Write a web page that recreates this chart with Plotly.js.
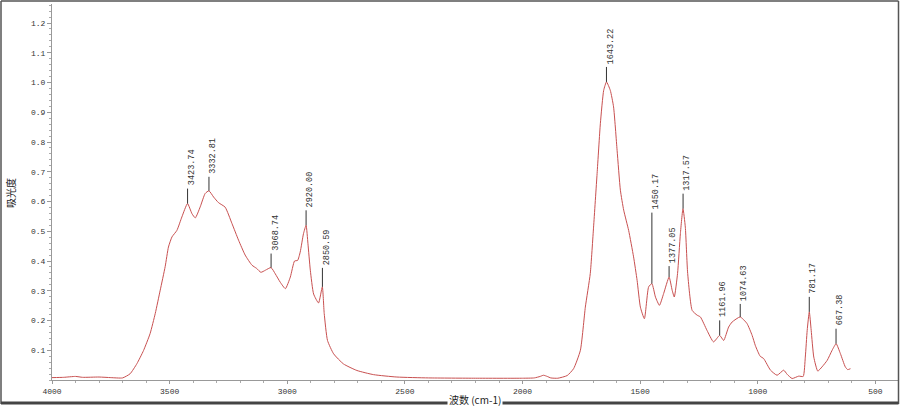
<!DOCTYPE html>
<html>
<head>
<meta charset="utf-8">
<script src="https://cdn.plot.ly/plotly-3.0.1.min.js"></script>
<style>html,body{margin:0;padding:0;background:#fff;}#chart{width:900px;height:406px;}</style>
</head>
<body>
<div id="chart"></div>
<script>
// Wavenumber (cm-1) and absorbance
var wavenumber = [4000,3950,3900,3870,3800,3750,3700,3668,3639,3611,3583,3561,3540,3519,3505,3490,3469,3448,3424,3405,3391,3370,3349,3333,3313,3292,3264,3235,3207,3179,3150,3130,3112,3093,3069,3051,3030,3008,2987,2969,2956,2945,2931,2920,2912,2902,2888,2867,2851,2843,2829,2803,2761,2704,2633,2534,2400,2200,2000,1950,1925,1911,1895,1880,1850,1810,1783,1754,1733,1712,1698,1683,1669,1655,1643,1627,1613,1598,1584,1570,1549,1528,1513,1499,1482,1464,1450,1435,1418,1400,1377,1364,1355,1341,1329,1318,1308,1298,1279,1258,1244,1216,1188,1162,1145,1124,1109,1075,1046,1024,1010,990,975,946,918,890,875,854,826,807,798,790,781,773,762,745,727,705,684,667,649,628,618,606];
var absorbance = [0.008,0.009,0.012,0.009,0.010,0.008,0.007,0.021,0.055,0.099,0.156,0.224,0.302,0.381,0.447,0.481,0.503,0.548,0.593,0.559,0.545,0.582,0.627,0.636,0.615,0.596,0.581,0.526,0.470,0.420,0.386,0.375,0.362,0.369,0.378,0.357,0.329,0.307,0.346,0.400,0.402,0.430,0.492,0.520,0.458,0.369,0.289,0.259,0.313,0.224,0.133,0.088,0.054,0.032,0.018,0.010,0.007,0.006,0.006,0.007,0.012,0.016,0.012,0.007,0.006,0.015,0.038,0.100,0.245,0.358,0.514,0.694,0.863,0.974,1.002,0.974,0.918,0.772,0.638,0.571,0.503,0.414,0.335,0.245,0.206,0.313,0.324,0.279,0.251,0.291,0.346,0.302,0.279,0.358,0.492,0.576,0.514,0.358,0.234,0.218,0.212,0.167,0.128,0.150,0.133,0.178,0.195,0.212,0.190,0.150,0.115,0.080,0.072,0.033,0.016,0.033,0.019,0.005,0.013,0.012,0.077,0.167,0.229,0.167,0.077,0.030,0.044,0.066,0.100,0.122,0.089,0.044,0.035,0.038];

// Peak labels
var peakWn = [3423.74,3332.81,3068.74,2920.00,2850.59,1643.22,1450.17,1377.05,1317.57,1161.96,1074.63,781.17,667.38];
var peakA = [0.593,0.636,0.378,0.520,0.313,1.002,0.324,0.346,0.576,0.150,0.212,0.229,0.122];
var peakText = ["3423.74","3332.81","3068.74","2920.00","2850.59","1643.22","1450.17","1377.05","1317.57","1161.96","1074.63","781.17","667.38"];

// Axis ticks
var yTickVals = [0.1,0.2,0.3,0.4,0.5,0.6,0.7,0.8,0.9,1.0,1.1,1.2];
var xTickVals = [4000,3500,3000,2500,2000,1500,1000,500];

var xTitle = "波数 (cm-1)";
var yTitle = "吸光度";

// leader line lengths in px (style)
var leaderLen = {"2850.59":19, "1450.17":71, "1377.05":11, "3332.81":14, "3068.74":14, "1074.63":13};

var W = 900, H = 406, ML = 52, MR = 2, MT = 4, MB = 26;
var PW = W - ML - MR, PH = H - MT - MB;
function px2x(px){ return (px - ML) / PW; }
function py2y(py){ return (H - MB - py) / PH; }

var lineColor = '#c85050';
var shapes = [];
var annotations = [];
for (var i = 0; i < peakWn.length; i++) {
  var L = leaderLen[peakText[i]] || 15;
  shapes.push({type:'line', xref:'x', yref:'y', ysizemode:'pixel', yanchor:peakA[i],
    x0:peakWn[i], x1:peakWn[i], y0:0, y1:L, line:{color:'#333', width:1}});
  annotations.push({x:peakWn[i], y:peakA[i], xref:'x', yref:'y', text:peakText[i], showarrow:false,
    textangle:-90, xanchor:'center', yanchor:'bottom', xshift:4, yshift:L + 1,
    font:{family:'Liberation Mono, monospace', size:8.5, color:'#333'}});
}
// frame
var frameColor = '#555';
shapes.push({type:'line', xref:'paper', yref:'paper', x0:px2x(1), x1:px2x(1), y0:py2y(1), y1:py2y(404), line:{color:frameColor, width:1.5}});
shapes.push({type:'line', xref:'paper', yref:'paper', x0:px2x(898.5), x1:px2x(898.5), y0:py2y(1), y1:py2y(404), line:{color:frameColor, width:1.5}});
shapes.push({type:'line', xref:'paper', yref:'paper', x0:px2x(1), x1:px2x(898.5), y0:py2y(1), y1:py2y(1), line:{color:frameColor, width:1.5}});
shapes.push({type:'line', xref:'paper', yref:'paper', x0:px2x(1), x1:px2x(898.5), y0:py2y(403), y1:py2y(403), line:{color:'#444', width:3}});

annotations.push({xref:'paper', yref:'paper', x:0.5, y:py2y(399), text:xTitle, showarrow:false,
  xanchor:'center', yanchor:'middle', bgcolor:'#fff', borderpad:1,
  font:{family:'Noto Sans CJK SC, sans-serif', size:10, color:'#222'}});
annotations.push({xref:'paper', yref:'paper', x:px2x(10), y:py2y(193), text:yTitle, showarrow:false,
  textangle:-90, xanchor:'center', yanchor:'middle',
  font:{family:'Noto Sans CJK SC, sans-serif', size:10, color:'#222'}});

var trace = {x:wavenumber, y:absorbance, type:'scatter', mode:'lines',
  line:{color:lineColor, width:1, shape:'spline', smoothing:0.5}, hoverinfo:'skip'};

var tickFont = {family:'Liberation Mono, monospace', size:8, color:'#333'};
var layout = {
  width:W, height:H,
  margin:{l:ML, r:MR, t:MT, b:MB, pad:0},
  paper_bgcolor:'#fff', plot_bgcolor:'#fff',
  showlegend:false,
  xaxis:{range:[4000,404], tickvals:xTickVals, ticktext:xTickVals.map(String), showgrid:false, zeroline:false,
    showline:true, linecolor:'#999', linewidth:1, ticks:'outside', ticklen:3, tickcolor:'#999',
    minor:{dtick:100, tick0:0, ticks:'outside', ticklen:2, tickcolor:'#aaa'},
    tickfont:tickFont, fixedrange:true},
  yaxis:{range:[0,1.264], tickvals:yTickVals, ticktext:yTickVals.map(function(v){return v.toFixed(1);}),
    showgrid:false, zeroline:false, showline:true, linecolor:'#999', linewidth:1,
    ticks:'outside', ticklen:4, tickcolor:'#999',
    minor:{dtick:0.02, tick0:0, ticks:'outside', ticklen:2, tickcolor:'#aaa'},
    tickfont:tickFont, fixedrange:true},
  shapes:shapes,
  annotations:annotations
};
Plotly.newPlot('chart', [trace], layout, {staticPlot:true, displayModeBar:false});
</script>
</body>
</html>
